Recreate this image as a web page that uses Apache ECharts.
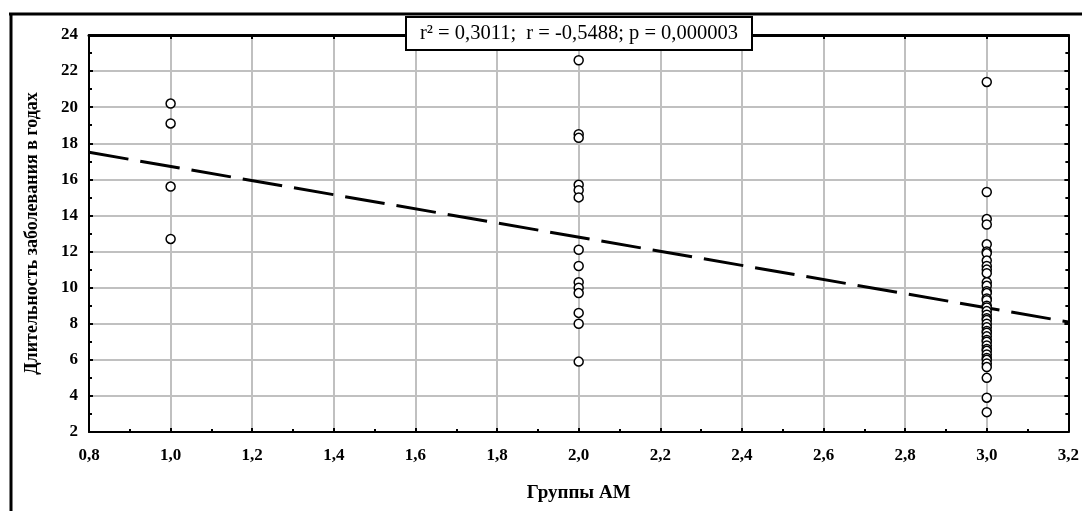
<!DOCTYPE html>
<html>
<head>
<meta charset="utf-8">
<script src="https://cdn.jsdelivr.net/npm/echarts@6/dist/echarts.min.js"></script>
<style>html,body{margin:0;padding:0;background:#fff}#c{width:1082px;height:511px}</style>
</head>
<body>
<div id="c"></div>
<script>
// ---- data ----
const xTickLabels = ['0,8','1,0','1,2','1,4','1,6','1,8','2,0','2,2','2,4','2,6','2,8','3,0','3,2'];
const group1 = [20.2, 19.1, 15.6, 12.7];
const group2 = [22.6, 18.5, 18.3, 15.7, 15.4, 15.0, 12.1, 11.2, 10.3, 10.0, 9.7, 8.6, 8.0, 5.9];
const group3 = [21.4, 15.3, 13.8, 13.5, 12.4, 12.0, 11.9, 11.5, 11.2, 11.0, 10.8, 10.3, 10.1, 9.8, 9.7, 9.4, 9.3, 9.0, 8.9, 8.7, 8.5, 8.3, 8.2, 8.0, 7.8, 7.6, 7.5, 7.3, 7.1, 7.0, 6.8, 6.6, 6.5, 6.3, 6.1, 6.0, 5.8, 5.6, 5.0, 3.9, 3.1];
const trendX = [0.8, 3.2];
const trendY = [17.5, 8.1];
const statsText = 'r² = 0,3011;  r = -0,5488; p = 0,000003';
const xName = 'Группы АМ';
const yName = 'Длительность заболевания в годах';

const points = [];
group1.forEach(v => points.push([1.0, v]));
group2.forEach(v => points.push([2.0, v]));
group3.forEach(v => points.push([3.0, v]));
const trend = trendX.map((x, i) => [x, trendY[i]]);

const chart = echarts.init(document.getElementById('c'));
const labelFont = {fontFamily: 'Liberation Serif', fontWeight: 'bold', fontSize: 17, color: '#000'};
chart.setOption({
  animation: false,
  backgroundColor: '#fff',
  title: {
    text: statsText,
    left: 406, top: 17,
    padding: [6, 14, 6, 14],
    borderColor: '#000', borderWidth: 2, backgroundColor: '#fff',
    textStyle: {fontFamily: 'Liberation Serif', fontWeight: 'normal', fontSize: 20.5, color: '#000'},
    z: 10
  },
  graphic: [
    {type: 'line', shape: {x1: 9, y1: 14, x2: 1082, y2: 14}, style: {stroke: '#000', lineWidth: 3}, z: 5},
    {type: 'line', shape: {x1: 11, y1: 13, x2: 11, y2: 511}, style: {stroke: '#000', lineWidth: 3}, z: 5}
  ],
  grid: {left: 89, right: 13, top: 35, bottom: 79, containLabel: false},
  xAxis: [{
    type: 'value', min: 0.8, max: 3.2, interval: 0.2,
    name: xName, nameLocation: 'middle', nameGap: 52,
    nameTextStyle: {fontFamily: 'Liberation Serif', fontWeight: 'bold', fontSize: 19, color: '#000'},
    axisLine: {show: true, onZero: false, lineStyle: {color: '#000', width: 2}},
    axisTick: {show: true, inside: true, length: 4, lineStyle: {color: '#000', width: 2}},
    minorTick: {show: true, splitNumber: 2, length: 3, lineStyle: {color: '#000', width: 2}},
    axisLabel: Object.assign({margin: 15, formatter: (v) => v.toFixed(1).replace('.', ',')}, labelFont),
    splitLine: {show: true, lineStyle: {color: '#c0c0c0', width: 2}}
  }, {
    type: 'value', position: 'top', min: 0.8, max: 3.2, interval: 0.2,
    axisLine: {show: true, onZero: false, lineStyle: {color: '#000', width: 3}},
    axisTick: {show: true, inside: true, length: 4, lineStyle: {color: '#000', width: 2}},
    axisLabel: {show: false}, splitLine: {show: false}
  }],
  yAxis: [{
    type: 'value', min: 2, max: 24, interval: 2,
    name: yName, nameLocation: 'middle', nameGap: 48,
    nameTextStyle: {fontFamily: 'Liberation Serif', fontWeight: 'bold', fontSize: 18, color: '#000'},
    axisLine: {show: true, onZero: false, lineStyle: {color: '#000', width: 2}},
    axisTick: {show: true, inside: true, length: 4, lineStyle: {color: '#000', width: 2}},
    minorTick: {show: true, splitNumber: 2, length: 3, lineStyle: {color: '#000', width: 2}},
    axisLabel: Object.assign({margin: 11, formatter: (v) => String(v)}, labelFont),
    splitLine: {show: true, lineStyle: {color: '#c0c0c0', width: 2}}
  }, {
    type: 'value', position: 'right', min: 2, max: 24, interval: 2,
    axisLine: {show: true, onZero: false, lineStyle: {color: '#000', width: 2}},
    axisTick: {show: true, inside: true, length: 4, lineStyle: {color: '#000', width: 2}},
    minorTick: {show: true, splitNumber: 2, length: 3, lineStyle: {color: '#000', width: 2}},
    axisLabel: {show: false}, splitLine: {show: false}
  }],
  series: [{
    type: 'line', data: trend, showSymbol: false, symbol: 'none',
    lineStyle: {color: '#000', width: 3, type: [40, 12]}, z: 3, silent: true
  }, {
    type: 'scatter', data: points, symbol: 'circle', symbolSize: 9,
    itemStyle: {color: '#fff', borderColor: '#000', borderWidth: 1.5, opacity: 1}, z: 4
  }]
});
</script>
</body>
</html>
